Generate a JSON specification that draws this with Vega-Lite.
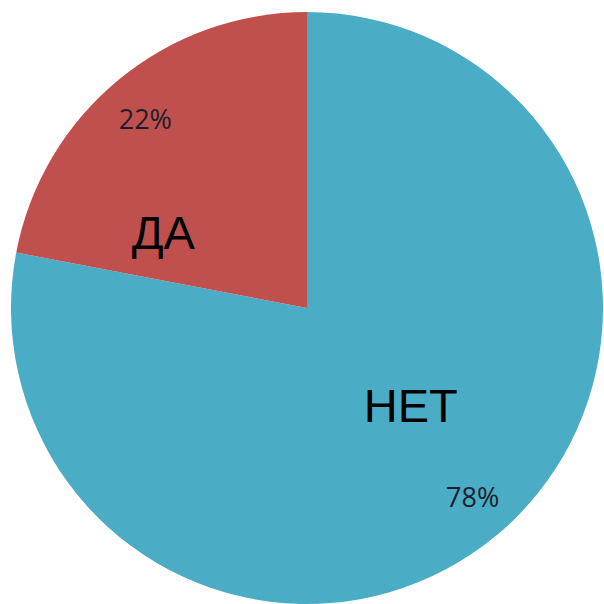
{
  "$schema": "https://vega.github.io/schema/vega-lite/v6.json",
  "width": 594,
  "height": 592,
  "autosize": {"type": "none"},
  "padding": {"left": 10, "top": 12, "right": 0, "bottom": 0},
  "background": "white",
  "config": {"view": {"stroke": null}},
  "data": {
    "values": [
      {"label": "НЕТ", "value": 78, "pct": "78%"},
      {"label": "ДА", "value": 22, "pct": "22%"}
    ]
  },
  "encoding": {
    "theta": {"field": "value", "type": "quantitative", "stack": true},
    "order": {"field": "label", "sort": "descending"}
  },
  "layer": [
    {
      "mark": {"type": "arc"},
      "encoding": {
        "color": {
          "field": "label",
          "type": "nominal",
          "scale": {"domain": ["НЕТ", "ДА"], "range": ["#4BACC6", "#C0504D"]},
          "legend": null
        }
      }
    },
    {
      "mark": {"type": "text", "radius": 249, "dx": -3, "dy": 5, "font": "Open Sans", "fontSize": 27, "fill": "#1e1e2a", "align": "center", "baseline": "middle"},
      "encoding": {"text": {"condition": {"test": "datum.label === 'ДА'", "field": "pct"}, "value": ""}}
    },
    {
      "mark": {"type": "text", "radius": 249, "dx": 7, "dy": -1, "font": "Open Sans", "fontSize": 27, "fill": "#1e1e2a", "align": "center", "baseline": "middle"},
      "encoding": {"text": {"condition": {"test": "datum.label === 'НЕТ'", "field": "pct"}, "value": ""}}
    },
    {
      "mark": {"type": "text", "radius": 161, "dx": -41, "dy": 51, "font": "Liberation Sans", "fontSize": 47, "fill": "black", "align": "center", "baseline": "middle"},
      "encoding": {"text": {"condition": {"test": "datum.label === 'ДА'", "field": "label"}, "value": ""}}
    },
    {
      "mark": {"type": "text", "radius": 144, "dx": 12, "dy": -11, "font": "Liberation Sans", "fontSize": 47, "fill": "black", "align": "center", "baseline": "middle"},
      "encoding": {"text": {"condition": {"test": "datum.label === 'НЕТ'", "field": "label"}, "value": ""}}
    }
  ]
}
